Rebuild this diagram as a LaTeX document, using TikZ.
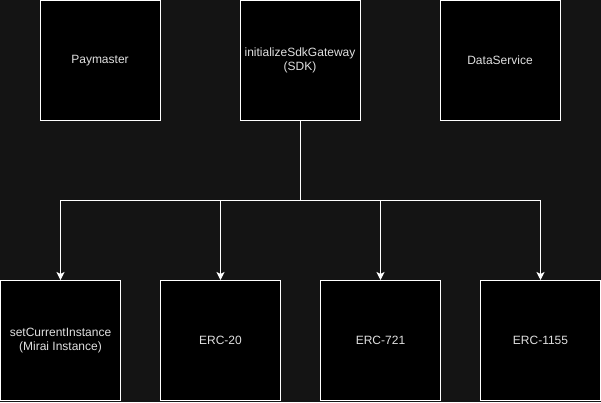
\documentclass[tikz,border=0pt]{standalone}
\usepackage{fontspec}
\setmainfont{Liberation Sans}
\usetikzlibrary{arrows.meta}
\definecolor{bg}{HTML}{141414}
\definecolor{txt}{HTML}{E0E0E0}
\begin{document}
\begin{tikzpicture}[x=1pt,y=-1pt,
  box/.style={draw=white,fill=black,line width=1pt,minimum width=120pt,minimum height=120pt,inner sep=0pt,text=txt,font=\fontsize{12pt}{14pt}\selectfont,align=center},
  conn/.style={draw=white,line width=1pt,-{Stealth[length=8pt,width=8pt,inset=2pt]}}]
\fill[bg] (0,0) rectangle (601,402);
\useasboundingbox (0,0) rectangle (601,402);
\node[box] (pay) at (100,60.5) {Paymaster};
\node[box] (sdk) at (300,60.5) {initializeSdkGateway\\(SDK)};
\node[box] (data) at (500,60.5) {DataService};
\node[box] (set) at (60.5,340.5) {setCurrentInstance\\(Mirai Instance)};
\node[box] (e20) at (220.5,340.5) {ERC-20};
\node[box] (e721) at (380.5,340.5) {ERC-721};
\node[box] (e1155) at (540.5,340.5) {ERC-1155};
\coordinate (j) at (300.5,200.5);
\draw[conn] (sdk.south) |- (j) -| (set.north);
\draw[conn] (sdk.south) |- (j) -| (e20.north);
\draw[conn] (sdk.south) |- (j) -| (e721.north);
\draw[conn] (sdk.south) |- (j) -| (e1155.north);
\end{tikzpicture}
\end{document}
